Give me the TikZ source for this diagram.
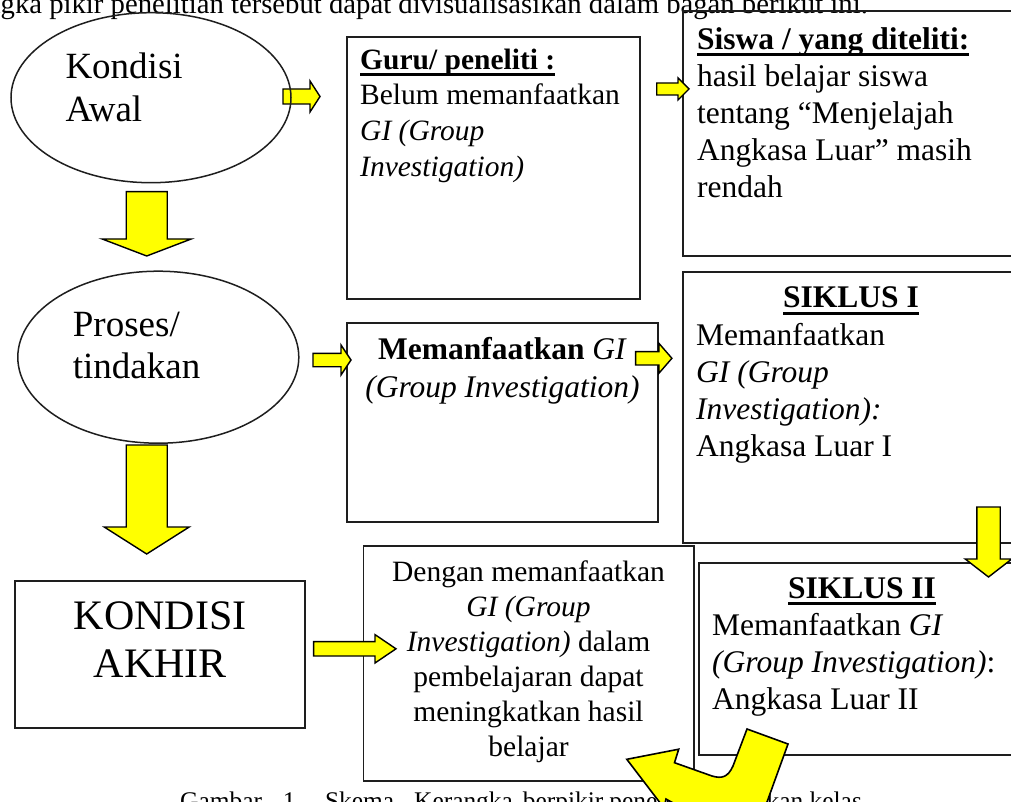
\documentclass[tikz,border=0pt]{standalone}
\usepackage{fontspec}
\setmainfont{Liberation Serif}
\usetikzlibrary{shapes.geometric,calc}

\definecolor{kuning}{RGB}{255,255,0}
\definecolor{garis}{RGB}{30,30,30}

\newcommand{\uhead}[1]{\setbox0=\hbox{\bfseries #1}\leavevmode\rlap{\rule[-7pt]{\wd0}{3pt}}\box0}

\tikzset{
  box/.style={shape=rectangle, draw=garis, line width=1.9pt, inner sep=0pt},
  oval/.style={shape=ellipse, draw=garis, line width=1.5pt, inner sep=0pt},
  isi/.style={inner sep=0pt, align=left, anchor=north west},
  tengah/.style={inner sep=0pt, align=center, anchor=north},
  fat/.style n args={3}{draw=black, fill=kuning, line width=1.4pt, line join=miter,
    to path={($(\tikztostart)!#1!90:(\tikztotarget)$)
      -- ($(\tikztotarget)!#3!(\tikztostart)!#1!-90:(\tikztostart)$)
      -- ($(\tikztotarget)!#3!(\tikztostart)!#2!-90:(\tikztostart)$)
      -- (\tikztotarget)
      -- ($(\tikztotarget)!#3!(\tikztostart)!#2!90:(\tikztostart)$)
      -- ($(\tikztotarget)!#3!(\tikztostart)!#1!90:(\tikztostart)$)
      -- ($(\tikztostart)!#1!-90:(\tikztotarget)$) -- cycle}},
}

\begin{document}
\begin{tikzpicture}[x=1pt,y=-1pt]
\useasboundingbox (0,0) rectangle (1011,802);

% teks pengantar dan judul gambar
\path (868,14) node (pengantar) [anchor=base east, inner sep=0pt, font=\fontsize{28.7}{33}\selectfont] {Kerangka pikir penelitian tersebut dapat divisualisasikan dalam bagan berikut ini.};
\path (180,809.5) node (judul) [anchor=base west, inner sep=0pt, font=\fontsize{25.4}{29}\selectfont] {Gambar\hspace{21pt}1.\hspace{23pt}Skema\hspace{20pt}Kerangka\hspace{10pt}berpikir\hspace{6pt}penelitian tindakan kelas};

\coordinate (awalOut) at (283,96.5);
\coordinate (guruIn) at (320,96.5);
\draw [fat={7.5pt}{15.5pt}{10pt}] (awalOut) to (guruIn);

% kolom kiri
\path (151,97.7) node (awal) [oval, minimum width=280pt, minimum height=170pt] {};
\path (158.3,357.2) node (proses) [oval, minimum width=281pt, minimum height=172pt] {};
\path (159.85,654.3) node (akhir) [box, minimum width=290.3pt, minimum height=146.6pt] {};
\path (65.3,52.3) node (awalText) [isi, font=\fontsize{37}{43.4}\selectfont] {Kondisi\\Awal};
\path (72.7,312.3) node (prosesText) [isi, font=\fontsize{37}{42}\selectfont] {Proses/\\tindakan};
\path (160.3,601) node (akhirText) [tengah, font=\fontsize{42}{48.5}\selectfont] {KONDISI\\AKHIR};

% kotak tengah
\path (493.35,168.3) node (guru) [box, minimum width=293.3pt, minimum height=262pt] {};
\path (502.5,422.5) node (gi) [box, minimum width=311pt, minimum height=199.6pt] {};
\path (528.55,663.35) node (dengan) [box, minimum width=330.1pt, minimum height=234.7pt] {};
\path (360,48.6) node (guruText) [isi, font=\fontsize{29.5}{35.7}\selectfont] {\uhead{Guru/ peneliti :}\\Belum memanfaatkan\\\textit{GI (Group}\\\textit{Investigation)}};
\path (502.5,337.2) node (giText) [tengah, font=\fontsize{31.5}{37.7}\selectfont] {\textbf{Memanfaatkan} \textit{GI}\\\textit{(Group Investigation)}};
\path (528.55,561) node (denganText) [tengah, font=\fontsize{29.5}{35}\selectfont] {Dengan memanfaatkan\\\textit{GI (Group}\\\textit{Investigation)} dalam\\pembelajaran dapat\\meningkatkan hasil\\belajar};

% kotak kanan
\path (854,133.5) node (siswa) [box, minimum width=342pt, minimum height=245pt] {};
\path (854,407.2) node (siklusA) [box, minimum width=342pt, minimum height=271pt] {};
\path (864.5,658.85) node (siklusB) [box, minimum width=331pt, minimum height=192.3pt] {};
\path (697,27.2) node (siswaText) [isi, font=\fontsize{31.5}{37}\selectfont] {\uhead{Siswa / yang diteliti:}\\hasil belajar siswa\\tentang “Menjelajah\\Angkasa Luar” masih\\rendah};
\path (851,307.7) node (siklusAHead) [anchor=base, inner sep=0pt, font=\fontsize{31.5}{37}\selectfont] {\uhead{SIKLUS I}};
\path (696,323.2) node (siklusAText) [isi, font=\fontsize{31.5}{37}\selectfont] {Memanfaatkan\\\textit{GI (Group}\\\textit{Investigation):}\\Angkasa Luar I};
\path (862,598) node (siklusBHead) [anchor=base, inner sep=0pt, font=\fontsize{31.5}{37}\selectfont] {\uhead{SIKLUS II}};
\path (712,613.5) node (siklusBText) [isi, font=\fontsize{31.5}{37}\selectfont] {Memanfaatkan \textit{GI}\\\textit{(Group Investigation)}:\\Angkasa Luar II};

% panah
\coordinate (awalBawah) at (146.7,191.7);
\coordinate (prosesAtas) at (146.7,256);
\coordinate (prosesBawah) at (146.7,445);
\coordinate (akhirAtas) at (146.7,554);
\coordinate (guruOut) at (656.7,89);
\coordinate (siswaIn) at (689,89);
\coordinate (prosesOut) at (313,360);
\coordinate (giIn) at (351,360);
\coordinate (giOut) at (635.6,358.3);
\coordinate (siklusAIn) at (671.9,358.3);
\coordinate (akhirOut) at (313.6,648.8);
\coordinate (denganIn) at (396,648.8);
\coordinate (siklusAOut) at (988.5,507);
\coordinate (siklusBIn) at (988.5,577);

\draw [fat={20.5pt}{44.5pt}{17pt}] (awalBawah) to (prosesAtas);
\draw [fat={20.5pt}{42.5pt}{27pt}] (prosesBawah) to (akhirAtas);
\draw [fat={6pt}{11pt}{11pt}] (guruOut) to (siswaIn);
\draw [fat={6.7pt}{15pt}{10pt}] (prosesOut) to (giIn);
\draw [fat={6.7pt}{15pt}{13pt}] (giOut) to (siklusAIn);
\draw [fat={7.2pt}{14.2pt}{21pt}] (akhirOut) to (denganIn);
\draw [fat={11.7pt}{23.3pt}{18pt}] (siklusAOut) to (siklusBIn);

% panah lengkung dari siklus II
\draw [draw=black, fill=kuning, line width=1.6pt, line join=miter] (788,744) -- (767,802)
  .. controls (757,828) and (705,822) .. (666,799) -- (664,808) -- (626.8,759.3)
  -- (678.7,749.2) -- (674.5,762.7) -- (712,776) .. controls (722,779) and (728,777) .. (733,766)
  -- (747,729) -- cycle;
\end{tikzpicture}
\end{document}
